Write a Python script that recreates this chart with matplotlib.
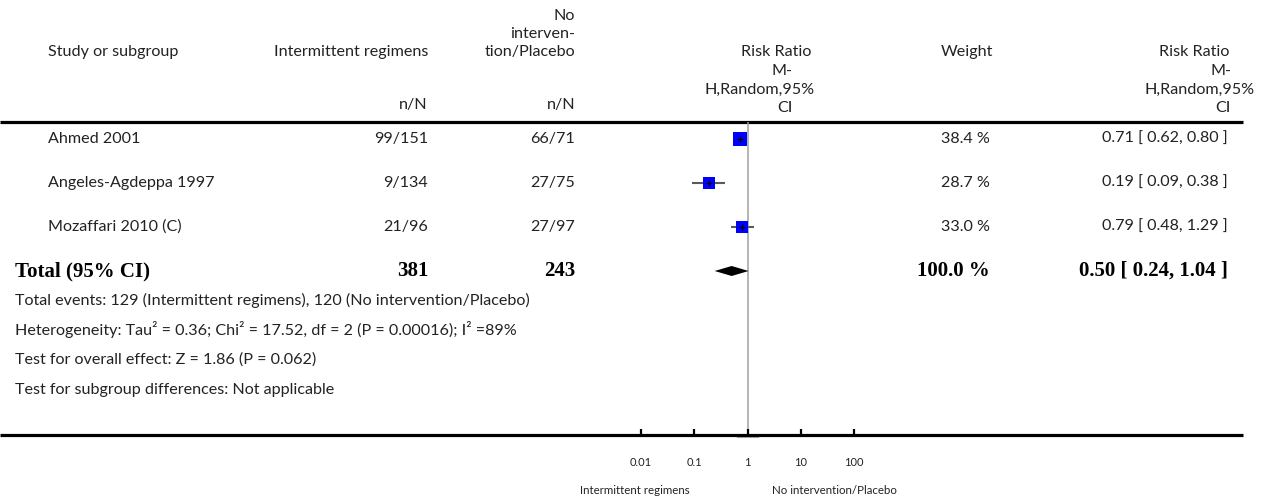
import numpy as np
import matplotlib
matplotlib.use("Agg")
import matplotlib.pyplot as plt
from matplotlib.ticker import NullLocator

# ---- data -----------------------------------------------------------------
studies = ["Ahmed 2001", "Angeles-Agdeppa 1997", "Mozaffari 2010 (C)"]
treat_nN = ["99/151", "9/134", "21/96"]
ctrl_nN = ["66/71", "27/75", "27/97"]
rr = [0.71, 0.19, 0.79]
rr_lo = [0.62, 0.09, 0.48]
rr_hi = [0.80, 0.38, 1.29]
weights = [38.4, 28.7, 33.0]

total_treat = 381
total_ctrl = 243
total_rr = 0.50
total_lo = 0.24
total_hi = 1.04
total_weight = 100.0

footnotes = [
    "Total events: 129 (Intermittent regimens), 120 (No intervention/Placebo)",
    "Heterogeneity: Tau\u00b2 = 0.36; Chi\u00b2 = 17.52, df = 2 (P = 0.00016); I\u00b2 =89%",
    "Test for overall effect: Z = 1.86 (P = 0.062)",
    "Test for subgroup differences: Not applicable",
]
tick_values = [0.01, 0.1, 1, 10, 100]
tick_labels = ["0.01", "0.1", "1", "10", "100"]
favours_left = "Intermittent regimens"
favours_right = "No intervention/Placebo"

# ---- layout ---------------------------------------------------------------
W, H = 1271, 504
FONT = "Lato"
SERIF = "Liberation Serif"
TXT = "#222222"
fs = 11.6
fs_small = 8.3

fig = plt.figure(figsize=(W / 100, H / 100), dpi=100)
bg = fig.add_axes([0, 0, 1, 1])
bg.set_xlim(0, W)
bg.set_ylim(H, 0)
bg.axis("off")

row_y = [139, 183, 227]
total_y = 271
foot_y = [300, 330, 360, 390]
line_top, line_bot = 122, 435
x_name, x_total = 48, 15
x_treat, x_ctrl = 428, 575
x_weight, x_rr = 990, 1228


def t(x, y, s, ha="left", **kw):
    kw.setdefault("fontsize", fs)
    kw.setdefault("family", FONT)
    kw.setdefault("color", TXT)
    bg.text(x, y, s, ha=ha, va="center", **kw)


# header
t(x_name, 52, "Study or subgroup")
t(x_treat, 52, "Intermittent regimens", ha="right")
t(x_ctrl, 16, "No", ha="right")
t(x_ctrl, 34, "interven-", ha="right")
t(x_ctrl, 52, "tion/Placebo", ha="right")
t(x_treat, 105, "n/N", ha="right")
t(x_ctrl, 105, "n/N", ha="right")
t(776, 52, "Risk Ratio", ha="center")
t(782, 71, "M-", ha="center")
t(760, 90, "H,Random,95%", ha="center")
t(785, 108, "CI", ha="center")
t(993, 52, "Weight", ha="right")
t(1229, 52, "Risk Ratio", ha="right")
t(1231, 71, "M-", ha="right")
t(1255, 90, "H,Random,95%", ha="right")
t(1231, 108, "CI", ha="right")

# study rows
for i, y in enumerate(row_y):
    t(x_name, y, studies[i])
    t(x_treat, y, treat_nN[i], ha="right")
    t(x_ctrl, y, ctrl_nN[i], ha="right")
    t(x_weight, y, f"{weights[i]:.1f} %", ha="right")
    t(x_rr, y, f"{rr[i]:.2f} [ {rr_lo[i]:.2f}, {rr_hi[i]:.2f} ]", ha="right")

# pooled row
bold = dict(family=SERIF, fontweight="bold", fontsize=15, color="black")
t(x_total, total_y, "Total (95% CI)", **bold)
t(x_treat, total_y, f"{total_treat}", ha="right", **bold)
t(x_ctrl, total_y, f"{total_ctrl}", ha="right", **bold)
t(x_weight, total_y, f"{total_weight:.1f} %", ha="right", **bold)
t(x_rr, total_y, f"{total_rr:.2f} [ {total_lo:.2f}, {total_hi:.2f} ]", ha="right", **bold)

for y, s in zip(foot_y, footnotes):
    t(x_total, y, s)

# horizontal rules
bg.plot([0, 1243], [line_top, line_top], color="black", lw=2.3, solid_capstyle="butt")
bg.plot([0, 1243], [line_bot, line_bot], color="black", lw=2.3, solid_capstyle="butt", zorder=3)

# ---- forest panel on a log scale -------------------------------------------
x0, x1 = 641.1, 854.3
ax = fig.add_axes([x0 / W, 1 - line_bot / H, (x1 - x0) / W, (line_bot - line_top) / H])
ax.set_xscale("log")
ax.set_xlim(tick_values[0], tick_values[-1])
ax.set_ylim(line_bot, line_top)
ax.patch.set_visible(False)
for sp in ax.spines.values():
    sp.set_visible(False)
ax.set_yticks([])
ax.set_xticks(tick_values)
ax.set_xticklabels(tick_labels, family=FONT, fontsize=8, color=TXT)
ax.xaxis.set_minor_locator(NullLocator())
ax.tick_params(axis="x", direction="in", length=4.5, width=1.6, color="black", pad=16)

ax.axvline(1, color="#a0a0a0", lw=1.1, zorder=1)

px = 0.72  # points per pixel at 100 dpi
for i, y in enumerate(row_y):
    ax.plot([rr_lo[i], rr_hi[i]], [y, y], color="#5a5a5a", lw=1.5, zorder=2,
            solid_capstyle="butt")
    side = 2.1 * np.sqrt(weights[i]) * px
    ax.plot(rr[i], y, marker="s", ms=side, color="#0000ff", mec="#0000ff", mew=0,
            zorder=3, ls="none")
    ax.plot(rr[i], y, marker="+", ms=5, color="black", mew=0.9, zorder=4, ls="none")

dh = 5
ax.fill([total_lo, total_rr, total_hi, total_rr],
        [total_y, total_y - dh, total_y, total_y + dh], color="black", lw=0, zorder=3)

bg.plot([737, 758], [437, 437], color="#b0b0b0", lw=0.8, zorder=2)

t(690, 490, favours_left, ha="right", fontsize=fs_small)
t(772, 490, favours_right, ha="left", fontsize=fs_small)

fig.savefig("out.png", dpi=100)
